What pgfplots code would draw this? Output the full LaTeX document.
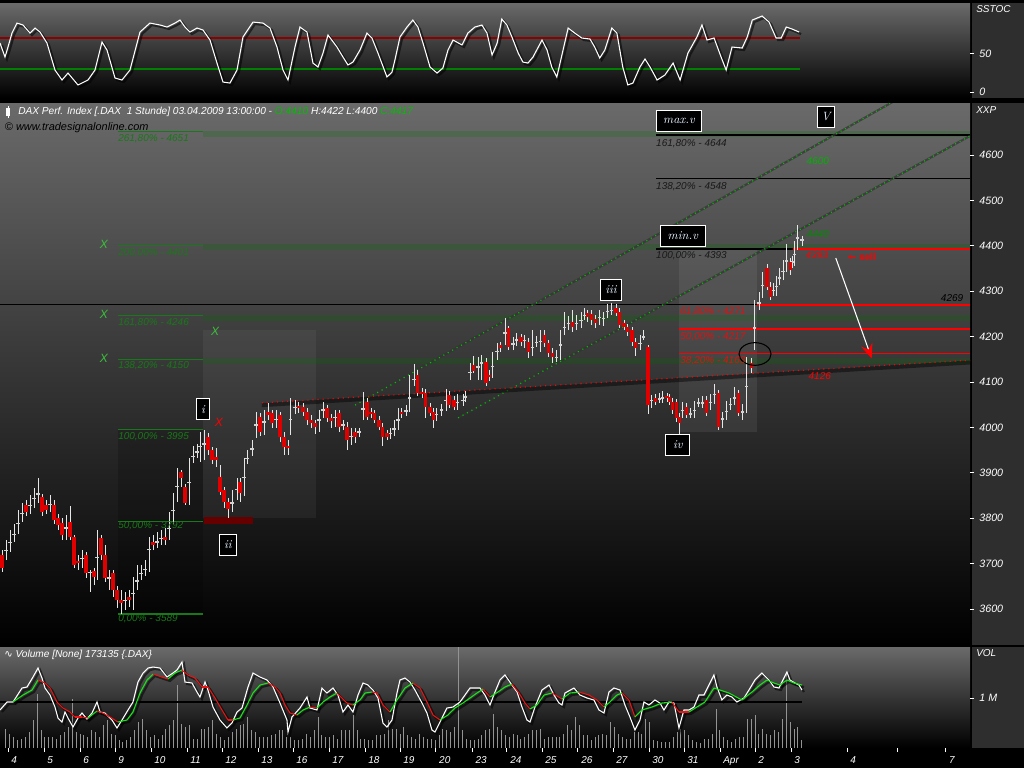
\documentclass[border=0pt]{standalone}
\usepackage{fontspec}
\usepackage{pgfplots}
\usepackage{pgfplotstable}
\pgfplotsset{compat=1.18}
\usetikzlibrary{arrows.meta}
\newfontfamily\lib{Liberation Sans}
\newfontfamily\dvs{DejaVu Sans}
\definecolor{bgtop}{HTML}{6A6A6A}
\definecolor{strip}{HTML}{2E2E2E}
\definecolor{fibgreen}{RGB}{25,120,25}
\definecolor{xgreen}{RGB}{60,190,60}
\definecolor{candleup}{HTML}{D2D2D2}
\definecolor{candledn}{HTML}{E00000}
\definecolor{wick}{HTML}{E6E6E6}
\definecolor{fibred}{HTML}{E01010}
\definecolor{boxtext}{HTML}{E6F2FF}
\newcommand\lf{\lib\itshape\fontsize{7.5}{9}\selectfont}
\newcommand\tf{\lib\itshape\fontsize{8}{9.5}\selectfont}
\newcommand\ttl{\lib\itshape\fontsize{7.6}{9}\selectfont}
\newcommand\bx{\itshape\fontsize{9}{10}\selectfont}

\pgfplotstableread{
i o h l c
1.00 3719 3730 3682 3690
2.03 3717 3752 3708 3741
3.05 3734 3774 3726 3761
4.08 3756 3787 3748 3774
5.10 3774 3818 3765 3805
6.13 3800 3834 3792 3822
7.15 3829 3840 3805 3814
8.18 3818 3851 3809 3840
9.20 3834 3867 3822 3853
10.23 3845 3889 3834 3862
11.25 3845 3853 3805 3814
12.28 3829 3840 3809 3818
13.30 3822 3851 3814 3840
14.33 3829 3840 3787 3796
15.35 3800 3809 3774 3785
16.38 3789 3800 3752 3763
17.40 3763 3807 3752 3796
18.43 3792 3827 3752 3759
19.45 3759 3763 3690 3697
20.48 3706 3719 3686 3701
21.50 3704 3730 3690 3719
22.53 3719 3726 3668 3679
23.55 3679 3686 3637 3684
24.58 3682 3690 3653 3671
25.35 3671 3774 3664 3756
26.37 3756 3763 3708 3719
27.40 3719 3741 3659 3668
28.42 3666 3686 3642 3671
29.45 3679 3686 3626 3642
30.47 3642 3651 3602 3620
31.50 3620 3642 3589 3615
32.52 3615 3637 3598 3624
33.55 3626 3642 3604 3620
34.57 3620 3671 3598 3649
35.60 3649 3697 3642 3675
36.62 3675 3697 3664 3682
37.65 3682 3708 3673 3693
38.67 3715 3759 3682 3748
39.70 3748 3763 3730 3741
40.72 3741 3770 3734 3756
41.75 3754 3774 3741 3759
42.77 3759 3778 3741 3752
43.80 3759 3814 3752 3796
44.82 3796 3856 3787 3840
45.85 3840 3911 3836 3900
46.87 3900 3906 3869 3889
47.90 3869 3875 3829 3834
48.92 3834 3933 3829 3924
49.95 3928 3959 3922 3946
50.97 3944 3963 3933 3948
51.74 3928 3990 3924 3988
52.77 3939 3995 3928 3990
53.79 3979 3988 3939 3950
54.82 3950 3957 3919 3928
55.84 3935 3955 3913 3928
56.87 3891 3917 3851 3858
57.89 3862 3869 3822 3836
58.92 3836 3845 3800 3822
59.94 3822 3862 3814 3847
61.23 3847 3889 3840 3880
62.00 3880 3889 3836 3856
63.02 3856 3933 3849 3924
63.79 3928 3950 3919 3937
65.07 3946 3972 3937 3961
66.10 3988 4034 3977 4023
67.12 4023 4032 3981 3990
68.15 3990 4038 3983 4034
69.17 4034 4054 4016 4027
70.20 4032 4038 3999 4010
71.22 4010 4038 3999 4027
72.25 4027 4034 3968 3979
73.27 3979 3990 3939 3957
74.30 3959 3972 3939 3955
75.06 3990 4065 3983 4045
76.09 4043 4060 4030 4047
77.11 4047 4056 4032 4043
78.14 4045 4054 4025 4034
79.17 4034 4043 4005 4016
80.19 4016 4027 3999 4010
81.22 4010 4016 3986 4001
82.24 4001 4038 3990 4032
83.27 4032 4056 4021 4045
84.29 4043 4049 4012 4021
85.32 4021 4030 3999 4014
86.34 4012 4038 4001 4032
87.37 4032 4038 3990 4001
88.39 4003 4016 3994 4008
89.42 4001 4012 3950 3972
90.44 3972 3999 3961 3990
91.47 3990 3999 3966 3979
92.49 3988 3999 3979 3992
93.52 4023 4078 4016 4060
94.54 4056 4065 4016 4023
95.57 4034 4043 4021 4030
96.59 4032 4038 4010 4016
97.62 4016 4025 3994 4001
98.64 4001 4010 3959 3979
99.67 3986 3994 3972 3979
100.44 3983 3999 3974 3992
101.46 3990 4016 3981 4005
102.49 4001 4043 3994 4032
103.51 4034 4043 4021 4030
104.54 4032 4049 4025 4041
105.56 4038 4115 4034 4093
106.59 4098 4140 4091 4115
107.61 4115 4126 4069 4076
108.64 4078 4087 4065 4074
109.66 4076 4085 4021 4045
110.69 4045 4054 4025 4032
111.70 4034 4043 3999 4016
112.48 4023 4043 4014 4034
113.76 4034 4052 4025 4043
114.79 4043 4085 4036 4076
115.56 4071 4080 4043 4049
116.84 4060 4069 4038 4045
117.86 4045 4074 4038 4065
119.15 4054 4074 4047 4065
119.91 4065 4080 4056 4071
120.94 4111 4142 4104 4133
121.96 4137 4157 4120 4126
122.99 4131 4155 4104 4137
124.01 4137 4159 4104 4148
125.04 4144 4153 4091 4098
125.81 4115 4126 4102 4111
126.83 4115 4166 4109 4155
127.86 4155 4186 4148 4181
128.88 4181 4188 4166 4175
129.91 4199 4241 4181 4219
130.93 4219 4223 4170 4177
131.96 4177 4199 4170 4192
132.98 4188 4208 4179 4199
134.01 4199 4206 4179 4188
135.03 4190 4203 4175 4195
136.06 4188 4197 4153 4166
137.08 4166 4214 4157 4188
138.11 4186 4201 4177 4190
139.13 4177 4214 4166 4203
140.16 4203 4214 4177 4186
141.18 4186 4192 4155 4164
142.21 4164 4175 4142 4155
143.23 4153 4170 4144 4157
144.26 4155 4214 4148 4210
145.28 4210 4254 4203 4232
146.31 4226 4245 4214 4232
147.33 4232 4259 4210 4221
148.36 4226 4248 4214 4232
149.39 4230 4254 4219 4243
150.41 4243 4263 4237 4252
151.18 4252 4259 4232 4243
152.20 4248 4259 4226 4237
153.23 4237 4248 4219 4230
154.25 4237 4259 4226 4248
155.28 4232 4254 4223 4248
156.30 4248 4272 4241 4263
157.33 4254 4274 4248 4263
158.36 4263 4272 4245 4252
159.38 4254 4263 4219 4226
160.41 4230 4237 4214 4221
161.43 4221 4228 4201 4210
162.46 4214 4221 4179 4188
163.48 4188 4197 4157 4175
164.51 4175 4203 4170 4197
165.53 4197 4214 4192 4203
166.56 4177 4181 4030 4049
167.58 4054 4071 4043 4065
168.61 4065 4074 4049 4056
169.63 4060 4076 4054 4067
170.40 4060 4080 4054 4071
171.43 4069 4076 4056 4065
172.19 4067 4074 4049 4056
172.96 4056 4065 4030 4038
173.99 4056 4063 4012 4021
174.76 4023 4032 3985 4010
175.53 4027 4056 4021 4049
176.55 4045 4054 4021 4027
177.58 4027 4043 4021 4034
178.60 4027 4058 4021 4049
179.63 4052 4065 4045 4056
180.65 4049 4069 4043 4060
181.68 4060 4069 4025 4032
182.70 4045 4074 4038 4065
183.73 4060 4096 4052 4087
184.75 4076 4082 3994 4001
185.78 4012 4034 3999 4027
186.80 4023 4058 4016 4049
187.83 4045 4065 4038 4056
188.85 4054 4089 4049 4076
189.88 4076 4082 4025 4032
190.90 4027 4052 4016 4043
191.93 4038 4155 4032 4144
193.21 4142 4153 4120 4131
193.98 4175 4281 4170 4265
195.01 4265 4298 4259 4285
196.03 4296 4342 4285 4331
197.06 4351 4360 4303 4309
198.08 4309 4320 4281 4287
198.85 4296 4318 4289 4309
199.62 4296 4333 4289 4325
200.39 4320 4351 4314 4340
201.16 4331 4369 4325 4358
202.18 4351 4404 4342 4384
203.21 4364 4373 4336 4347
203.72 4360 4377 4351 4369
204.23 4362 4411 4356 4402
205.00 4397 4446 4391 4439
206.03 4410 4422 4400 4417
}\candles

\pgfplotstableread{
i v
0.49 63.5
1.77 45.5
2.54 58.4
3.56 76.4
4.84 89.3
6.38 86.8
8.18 76.4
9.46 82.9
10.74 77.7
12.53 63.5
14.58 28.7
16.38 15.8
17.91 24.8
20.48 9.4
23.04 15.8
24.83 28.7
26.63 64.8
27.91 54.5
29.96 18.4
31.75 15.8
33.80 28.7
36.36 77.7
38.92 89.3
41.49 86.8
43.29 84.2
45.34 89.3
46.62 93.2
47.90 84.2
49.18 77.7
50.97 82.9
52.51 80.3
54.31 67.4
56.10 37.7
57.64 13.2
59.43 11.9
61.23 28.7
62.76 71.3
65.33 90.6
67.89 89.3
69.68 82.9
71.48 58.4
73.02 28.7
74.30 15.8
76.09 58.4
77.37 84.2
79.17 77.7
80.70 37.7
81.98 32.6
83.27 50.6
84.55 73.9
86.85 58.4
88.39 45.5
89.67 35.2
90.95 39.0
92.75 54.5
94.54 76.4
95.82 70.0
97.36 50.6
99.67 19.7
100.95 26.1
101.7 41.6
103.0 71.3
104.8 84.2
106.3 93.2
107.6 84.2
108.9 63.5
110.7 32.6
112.5 24.8
114.0 31.3
115.3 54.5
116.6 67.4
118.9 61.0
120.4 76.4
122.2 84.2
124.0 86.8
125.3 76.4
126.6 48.1
127.9 63.5
129.1 94.5
130.4 86.8
131.7 71.3
133.3 50.6
134.5 39.0
135.8 37.7
137.1 45.5
139.4 67.4
140.7 54.5
141.9 32.6
143.2 19.7
144.5 48.1
146.1 82.9
147.8 76.4
149.6 70.0
151.7 68.7
152.9 58.4
154.2 44.2
155.5 54.5
157.3 82.9
158.6 76.4
160.1 32.6
161.4 9.4
162.7 11.9
164.5 32.6
165.8 42.9
167.1 32.6
168.9 15.8
170.9 22.3
173.0 37.7
174.8 15.8
176.8 50.6
179.1 71.3
180.4 86.8
181.7 67.4
183.5 70.0
185.3 45.5
186.6 28.7
188.1 58.4
190.7 57.1
192.0 71.3
193.3 93.2
195.8 98.4
197.6 90.6
199.4 70.0
200.7 70.0
202.0 84.2
203.5 81.6
205.3 77.7
}\stoch

\pgfplotstableread{
i v
2 0.39
3 0.29
4 0.23
5 0.16
6 0.19
7 0.23
8 0.33
9 0.56
10 1.09
11 0.36
12 0.23
13 0.23
14 0.23
15 0.19
16 0.26
17 0.33
18 0.43
19 0.99
20 0.33
21 0.29
22 0.26
23 0.23
24 0.36
25 0.33
26 0.23
27 0.46
28 0.56
29 0.29
30 0.26
31 0.16
32 0.13
33 0.16
34 0.23
35 0.36
36 0.53
37 0.59
38 0.36
39 0.23
40 0.26
41 0.19
42 0.26
43 0.39
44 0.46
45 0.56
46 1.26
47 0.49
48 0.43
49 0.46
50 0.19
51 0.19
52 0.39
53 0.39
54 0.43
55 0.56
56 0.29
57 0.23
58 0.16
59 0.23
60 0.33
61 0.39
62 0.46
63 0.49
64 0.63
65 0.36
66 0.33
67 0.23
68 0.23
69 0.23
70 0.26
71 0.29
72 0.36
73 0.36
74 0.23
75 0.23
76 0.16
77 0.16
78 0.19
79 0.29
80 0.23
81 0.36
82 0.63
83 0.26
84 0.23
85 0.23
86 0.26
87 0.19
88 0.36
89 0.36
90 0.36
91 0.66
92 0.36
93 0.19
94 0.19
95 0.17
96 0.17
97 0.26
98 0.26
99 0.29
100 0.56
101 0.39
102 0.39
103 0.29
104 0.43
105 0.26
106 0.23
107 0.19
108 0.29
109 0.23
110 0.19
111 0.19
112 0.16
113 0.26
114 0.39
115 0.36
116 0.33
117 0.43
118 2.03
119 0.36
120 0.19
121 0.16
122 0.16
123 0.19
124 0.26
125 0.36
126 0.39
127 0.69
128 0.43
129 0.36
130 0.26
131 0.23
132 0.29
133 0.26
134 0.19
135 0.23
136 0.29
137 0.36
138 0.36
139 0.39
140 0.19
141 0.23
142 0.23
143 0.23
144 0.23
145 0.29
146 0.46
147 0.36
148 0.63
149 0.46
150 0.26
151 0.26
152 0.16
153 0.23
154 0.26
155 0.29
156 0.26
157 0.53
158 0.43
159 0.29
160 0.23
161 0.19
162 0.19
163 0.33
164 0.33
165 0.29
166 0.59
167 0.53
168 0.16
169 0.14
170 0.13
171 0.13
172 0.13
173 0.23
174 0.33
175 0.39
176 0.36
177 0.26
178 0.16
179 0.13
180 0.11
181 0.19
182 0.19
183 0.29
184 0.79
185 0.36
186 0.23
187 0.16
188 0.13
189 0.19
190 0.23
191 0.23
192 0.59
193 0.59
194 0.66
195 0.29
196 0.39
197 0.29
198 0.26
199 0.36
200 0.33
201 0.59
202 1.53
203 0.53
204 0.39
205 0.43
206 0.16
}\volbars

\pgfplotstableread{
i v
0.49 0.76
2.28 0.92
3.82 0.92
6.13 1.20
7.41 1.22
8.94 1.42
10.23 1.60
11.25 1.40
12.02 1.20
13.30 1.06
14.58 0.82
15.35 0.60
16.38 0.52
17.15 0.72
17.91 0.60
19.20 0.42
20.48 0.60
21.50 0.70
22.78 0.58
24.07 0.70
25.35 0.92
26.12 0.72
27.40 0.70
29.19 0.56
30.47 0.40
31.75 0.56
33.29 0.76
34.57 0.92
35.85 1.32
37.14 1.50
38.42 1.60
39.70 1.62
41.49 1.60
43.29 1.42
44.82 1.50
45.85 1.56
47.13 1.72
47.90 1.32
49.69 1.30
50.97 1.12
51.74 1.02
53.03 1.32
53.79 1.16
55.07 0.82
56.87 0.56
58.66 0.40
59.94 0.50
61.23 0.72
62.51 0.80
64.05 1.22
65.33 1.50
67.12 1.42
68.92 1.36
70.45 1.22
72.25 0.90
74.04 0.56
74.30 0.32
75.32 0.62
77.37 0.80
79.17 1.02
79.93 0.80
81.73 0.76
83.01 1.20
84.29 1.10
85.83 1.20
87.11 1.06
88.39 0.72
89.67 0.86
90.95 0.72
92.24 1.06
93.52 1.30
94.80 1.26
96.08 1.16
97.36 1.00
98.64 0.50
99.67 0.42
100.95 0.56
102.23 1.10
103.0 1.36
104.28 1.40
105.56 1.32
106.84 1.16
108.64 0.90
109.92 0.70
111.2 0.36
111.97 0.32
113.25 0.52
115.04 0.80
116.58 0.82
118.38 0.92
119.66 1.06
120.94 1.20
123.50 1.20
124.78 1.06
126.07 0.86
127.35 1.12
128.63 1.36
129.91 1.46
131.7 1.26
132.99 1.12
134.27 0.82
135.55 0.56
136.32 0.52
137.6 0.82
139.39 1.16
141.19 1.26
142.47 1.06
143.75 0.90
144.52 0.86
145.29 1.10
147.59 1.20
149.13 1.06
150.92 1.00
152.72 0.96
154.0 0.76
155.28 0.70
156.56 1.12
157.84 1.20
159.38 1.16
160.66 0.86
161.94 0.62
163.22 0.36
164.51 0.56
165.53 0.92
166.81 0.86
168.35 0.96
169.63 0.90
170.66 0.76
171.94 0.92
173.22 0.90
174.5 0.40
175.78 0.76
177.06 0.76
178.35 0.82
179.63 1.06
180.91 1.06
182.19 1.26
183.47 1.46
184.24 1.22
185.52 0.96
186.8 1.06
188.09 1.02
189.37 0.92
191.16 1.00
192.44 1.16
193.98 1.36
195.77 1.50
197.57 1.36
198.85 1.22
200.13 1.20
200.9 1.32
202.18 1.52
202.95 1.36
204.23 1.30
205.26 1.26
206.03 1.16
}\volwhite

\pgfplotstableread{
i v c
3.82 0.92 1
6.38 1.06 1
8.69 1.16 1
10.23 1.36 0
12.02 1.30 0
13.30 1.20 0
15.09 0.92 0
16.63 0.80 0
18.43 0.72 0
19.71 0.62 0
21.50 0.62 0
23.04 0.60 1
25.35 0.74 0
26.88 0.70 0
28.68 0.62 0
30.73 0.52 1
33.03 0.56 1
34.57 0.72 1
36.37 1.10 1
38.16 1.36 1
39.70 1.48 0
42.0 1.42 0
43.54 1.38 1
45.34 1.50 1
47.13 1.56 0
48.67 1.46 0
50.46 1.40 0
52.26 1.22 0
53.79 1.22 0
55.59 1.00 0
57.38 0.76 0
58.92 0.56 0
60.2 0.56 1
61.99 0.60 1
63.79 0.86 1
65.33 1.10 1
67.12 1.26 1
69.17 1.30 0
70.97 1.22 0
72.25 1.10 0
73.53 0.86 0
74.81 0.70 0
76.6 0.66 1
78.14 0.76 1
79.93 0.82 0
81.73 0.80 1
83.27 0.92 1
85.06 1.02 1
86.85 1.10 0
88.13 1.00 0
89.41 0.90 0
90.95 0.86 1
92.75 0.96 1
94.03 1.10 1
95.82 1.12 0
97.1 1.10 0
98.64 0.86 0
100.44 0.72 1
102.23 0.96 1
104.28 1.20 1
106.33 1.30 0
108.13 1.20 0
109.92 0.92 0
111.46 0.66 0
113.25 0.56 1
115.3 0.66 1
117.1 0.80 1
119.14 0.90 1
120.94 1.00 1
122.73 1.10 1
124.27 1.18 0
126.07 1.02 1
128.11 1.12 1
129.91 1.22 1
131.7 1.28 0
133.5 1.10 0
135.04 0.90 0
136.32 0.78 1
138.11 0.86 1
139.91 1.06 1
141.96 1.10 0
144.52 0.98 1
146.57 1.10 1
148.87 1.12 0
151.44 1.06 0
153.49 0.96 0
155.28 0.82 1
156.82 0.92 1
158.61 1.06 1
159.89 1.10 0
161.69 0.96 0
163.22 0.62 1
165.02 0.76 1
167.58 0.82 1
170.14 0.90 1
172.7 0.92 0
174.5 0.72 0
177.06 0.72 1
179.11 0.82 1
181.16 0.92 1
183.47 1.20 1
185.0 1.16 1
187.32 1.10 1
190.65 0.96 1
193.21 1.12 1
195.26 1.26 1
197.06 1.36 1
198.85 1.30 1
200.39 1.26 1
202.18 1.36 1
203.98 1.30 1
206.03 1.26 1
}\volma

\pgfplotsset{
  panel/.style={
    anchor=north west, width=727.5pt, scale only axis,
    xmin=0.487, xmax=249.1,
    axis background/.style={top color=bgtop, bottom color=black},
    axis line style={draw=none},
    tick align=outside, major tick length=3pt,
    tick style={white, line width=0.6pt},
    ytick pos=right, yticklabel pos=right,
    yticklabel style={font=\tf, text=white, xshift=0.5pt},
    /pgf/number format/assume math mode=true,
    /pgf/number format/1000 sep={},
  }
}

\begin{document}
\begin{tikzpicture}
\useasboundingbox (0,0) rectangle (768pt,-576pt);
\fill[black] (0,0) rectangle (768pt,-576pt);
\fill[strip] (729pt,-2.25pt) rectangle (768pt,-73.5pt);
\fill[strip] (729pt,-77.25pt) rectangle (768pt,-483.75pt);
\fill[strip] (729pt,-485.25pt) rectangle (768pt,-561pt);

% ---------------- SSTOC panel
\begin{axis}[panel, at={(0pt,-2.25pt)}, height=71.25pt,
  ymin=-7.4, ymax=115.2, xtick=\empty, ytick={0,50}]
\draw[red!55!black, line width=1pt] (axis cs:0.487,70) -- (axis cs:205.5,70);
\draw[green!50!black, line width=1pt] (axis cs:0.487,30) -- (axis cs:205.5,30);
\addplot[black, opacity=0.55, line width=1.6pt, xshift=1.5pt, yshift=-1.5pt] table[x=i,y=v] {\stoch};
\addplot[white, line width=0.8pt] table[x=i,y=v] {\stoch};
\end{axis}

% ---------------- main price panel
\begin{axis}[panel, at={(0pt,-77.25pt)}, height=406.5pt,
  ymin=3520.7, ymax=4714.5, xtick=\empty, ytick={3600,3700,...,4600}]
% shaded zones
\fill[black, opacity=0.18] (axis cs:30.73,3995) rectangle (axis cs:52.5,3589);
\fill[white, opacity=0.05] (axis cs:52.5,4214) rectangle (axis cs:81.5,3800);
\fill[white, opacity=0.07] (axis cs:174.5,4390) rectangle (axis cs:194.5,3990);
\fill[red!40!black] (axis cs:52.8,3803) rectangle (axis cs:65.3,3788);
% green bands
\fill[green!45!black, opacity=0.22] (axis cs:52.5,4653) rectangle (axis cs:249.1,4640);
\fill[green!45!black, opacity=0.22] (axis cs:52.5,4403) rectangle (axis cs:249.1,4390);
\fill[green!45!black, opacity=0.22] (axis cs:52.5,4248) rectangle (axis cs:249.1,4235);
\fill[green!45!black, opacity=0.22] (axis cs:52.5,4152) rectangle (axis cs:249.1,4139);
% left green fib lines
\draw[fibgreen, line width=0.8pt] (axis cs:30.73,4651) -- (axis cs:52.5,4651);
\draw[fibgreen, line width=0.8pt] (axis cs:30.73,4401) -- (axis cs:52.5,4401);
\draw[fibgreen, line width=0.8pt] (axis cs:30.73,4246) -- (axis cs:52.5,4246);
\draw[fibgreen, line width=0.8pt] (axis cs:30.73,4150) -- (axis cs:52.5,4150);
\draw[fibgreen, line width=0.8pt] (axis cs:30.73,3995) -- (axis cs:52.5,3995);
\draw[fibgreen, line width=0.8pt] (axis cs:30.73,3792) -- (axis cs:52.5,3792);
\draw[fibgreen, line width=0.8pt] (axis cs:30.73,3589) -- (axis cs:52.5,3589);
% horizontal lines
\draw[black, line width=1pt] (axis cs:0.487,4270) -- (axis cs:249.1,4270);
\draw[black, line width=0.9pt] (axis cs:168.6,4644) -- (axis cs:249.1,4644);
\draw[black, line width=0.9pt] (axis cs:168.6,4548) -- (axis cs:249.1,4548);
\draw[black, line width=0.9pt] (axis cs:168.6,4393) -- (axis cs:203.7,4393);
\draw[red, line width=1pt] (axis cs:203.7,4393) -- (axis cs:249.1,4393);
\draw[red, line width=1.2pt] (axis cs:194.5,4270) -- (axis cs:249.1,4270);
\draw[red, line width=1.2pt] (axis cs:174.5,4217) -- (axis cs:249.1,4217);
\draw[red, line width=1.2pt] (axis cs:174.5,4163) -- (axis cs:249.1,4163);
% channel lines
\draw[black!80, opacity=0.7, line width=1.6pt] (axis cs:91.5,4049) -- (axis cs:232,4730);
\draw[green!75!black, line width=0.9pt, dash pattern=on 0.8pt off 3pt] (axis cs:91.5,4049) -- (axis cs:232,4730);
\draw[black!80, opacity=0.7, line width=1.6pt] (axis cs:117.9,4021) -- (axis cs:249.1,4642);
\draw[green!75!black, line width=0.9pt, dash pattern=on 0.8pt off 3pt] (axis cs:117.9,4021) -- (axis cs:249.1,4642);
\draw[black, opacity=0.45, line width=3pt] (axis cs:67.6,4049) -- (axis cs:249.1,4143);
\draw[red, line width=0.9pt, dash pattern=on 0.8pt off 3pt] (axis cs:67.6,4054) -- (axis cs:249.1,4148);
% dome
\fill[black, opacity=0.25] (axis cs:206.8,4390.7) ++(-28pt,0) arc[start angle=180, end angle=0, x radius=28pt, y radius=19pt] -- cycle;
% candles: wicks
\addplot[draw=none, mark=none, forget plot,
  error bars/.cd, y dir=both, y explicit, error mark=none,
  error bar style={draw=wick, line width=0.7pt}]
  table[x=i, y expr=(\thisrow{h}+\thisrow{l})/2, y error expr=(\thisrow{h}-\thisrow{l})/2] {\candles};
% up bodies (error length zero for falling bars)
\addplot[draw=none, mark=none, forget plot,
  error bars/.cd, y dir=both, y explicit, error mark=none,
  error bar style={draw=candleup, line width=2.3pt}]
  table[x=i, y expr=(\thisrow{o}+\thisrow{c})/2, y error expr=(\thisrow{c}>=\thisrow{o})*(abs(\thisrow{c}-\thisrow{o})/2+0.7)] {\candles};
% down bodies
\addplot[draw=none, mark=none, forget plot,
  error bars/.cd, y dir=both, y explicit, error mark=none,
  error bar style={draw=candledn, line width=2.3pt}]
  table[x=i, y expr=(\thisrow{o}+\thisrow{c})/2, y error expr=(\thisrow{c}<\thisrow{o})*(abs(\thisrow{c}-\thisrow{o})/2+0.7)] {\candles};
% ellipse and arrow
\draw[black, line width=0.8pt] (axis cs:194.0,4161.7) ellipse [x radius=12pt, y radius=8.5pt];
\draw[white, line width=0.8pt, -{Stealth[length=11pt, width=9pt, inset=4pt, color=red, fill=red]}] (axis cs:214.7,4373) -- (axis cs:223.9,4152);
% fib labels (green, left)
\node[anchor=west, inner sep=0pt, font=\lf, text=fibgreen] at (axis cs:30.73,4635) {261,80\% - 4651};
\node[anchor=west, inner sep=0pt, font=\lf, text=fibgreen] at (axis cs:30.73,4384) {200,00\% - 4401};
\node[anchor=west, inner sep=0pt, font=\lf, text=fibgreen] at (axis cs:30.73,4230) {161,80\% - 4246};
\node[anchor=west, inner sep=0pt, font=\lf, text=fibgreen] at (axis cs:30.73,4135) {138,20\% - 4150};
\node[anchor=west, inner sep=0pt, font=\lf, text=fibgreen] at (axis cs:30.73,3979) {100,00\% - 3995};
\node[anchor=west, inner sep=0pt, font=\lf, text=fibgreen] at (axis cs:30.73,3783) {50,00\% - 3792};
\node[anchor=west, inner sep=0pt, font=\lf, text=fibgreen] at (axis cs:30.73,3578) {0,00\% - 3589};
\node[anchor=west, inner sep=0pt, font=\lf, text=black!90] at (axis cs:168.6,4626) {161,80\% - 4644};
\node[anchor=west, inner sep=0pt, font=\lf, text=black!90] at (axis cs:168.6,4530) {138,20\% - 4548};
\node[anchor=west, inner sep=0pt, font=\lf, text=black!90] at (axis cs:168.6,4378) {100,00\% - 4393};
\node[anchor=west, inner sep=0pt, font=\lf, text=fibred] at (axis cs:174.8,4254) {61,80\% - 4271};
\node[anchor=west, inner sep=0pt, font=\lf, text=fibred] at (axis cs:174.8,4199) {50,00\% - 4217};
\node[anchor=west, inner sep=0pt, font=\lf, text=fibred] at (axis cs:174.8,4146) {38,20\% - 4163};
\node[font=\lf, text=green!70!black, inner sep=0pt] at (axis cs:210.1,4587) {4600};
\node[font=\lf, text=green!55!black, inner sep=0pt] at (axis cs:210.1,4426) {4440};
\node[font=\lf, text=red, inner sep=0pt] at (axis cs:209.9,4380) {4393};
\node[font=\lib\bfseries\fontsize{7.5}{9}\selectfont, text=red, inner sep=0pt] at (axis cs:221.4,4375) {{\dvs ←} sell};
\node[font=\lf, text=black, inner sep=0pt] at (axis cs:244.5,4285) {4269};
\node[font=\lf, text=red, inner sep=0pt] at (axis cs:210.6,4113) {4126};
% X marks
\node[inner sep=0pt, font=\lib\itshape\fontsize{9}{10}\selectfont, text=xgreen] at (axis cs:27.1,4404) {X};
\node[inner sep=0pt, font=\lib\itshape\fontsize{9}{10}\selectfont, text=xgreen] at (axis cs:27.1,4248) {X};
\node[inner sep=0pt, font=\lib\itshape\fontsize{9}{10}\selectfont, text=xgreen] at (axis cs:27.1,4153) {X};
\node[inner sep=0pt, font=\lib\itshape\fontsize{9}{10}\selectfont, text=xgreen] at (axis cs:55.6,4212) {X};
\node[inner sep=0pt, font=\lib\itshape\fontsize{9}{10}\selectfont, text=red] at (axis cs:56.6,4010) {X};
% wave label boxes
\node[fill=black, draw=white, line width=0.8pt, text=boxtext, font=\bx, inner sep=1pt, minimum height=16pt, minimum width=34pt] at (axis cs:174.5,4675) {max.v};
\node[fill=black, draw=white, line width=0.8pt, text=boxtext, font=\bx, inner sep=1pt, minimum height=16pt, minimum width=13pt] at (axis cs:212.2,4684) {V};
\node[fill=black, draw=white, line width=0.8pt, text=boxtext, font=\bx, inner sep=1pt, minimum height=16pt, minimum width=34pt] at (axis cs:175.5,4422) {min.v};
\node[fill=black, draw=white, line width=0.8pt, text=boxtext, font=\bx, inner sep=1pt, minimum height=16pt, minimum width=16pt] at (axis cs:157.1,4303) {iii};
\node[fill=black, draw=white, line width=0.8pt, text=boxtext, font=\bx, inner sep=1pt, minimum height=16pt, minimum width=10pt] at (axis cs:52.5,4040) {i};
\node[fill=black, draw=white, line width=0.8pt, text=boxtext, font=\bx, inner sep=1pt, minimum height=16pt, minimum width=13pt] at (axis cs:58.9,3741) {ii};
\node[fill=black, draw=white, line width=0.8pt, text=boxtext, font=\bx, inner sep=1pt, minimum height=16pt, minimum width=18pt] at (axis cs:174.2,3961) {iv};
\end{axis}

% ---------------- volume panel
\begin{axis}[panel, at={(0pt,-485.25pt)}, height=75.75pt,
  ymin=0, ymax=2.02, ytick={1}, yticklabels={1 M},
  xtick={2.54,11.76,20.99,29.96,39.19,48.41,57.38,66.61,75.58,84.80,94.03,103.0,112.2,121.5,130.4,139.4,148.6,157.6,166.8,175.8,185.0,194.0,203.2,217.6,230.6,242.9},
  xticklabels={4,5,6,9,10,11,12,13,16,17,18,19,20,23,24,25,26,27,30,31,Apr,2,3,4,{},7},
  xtick pos=left,
  xticklabel style={anchor=north west, xshift=-1pt, font=\lf, text=white}]
\addplot[ycomb, color=gray!85, line width=0.7pt] table[x=i,y=v] {\volbars};
\draw[black, line width=0.9pt] (axis cs:0.487,0.92) -- (axis cs:206,0.92);
\addplot[black, opacity=0.55, line width=1.6pt, xshift=1.5pt, yshift=-1.5pt] table[x=i,y=v] {\volwhite};
\addplot[black, opacity=0.55, line width=1.6pt, xshift=1.5pt, yshift=-1.5pt] table[x=i,y=v] {\volma};
\addplot[white, line width=0.8pt] table[x=i,y=v] {\volwhite};
\addplot[mesh, shader=flat corner, point meta=explicit, point meta min=0, point meta max=1,
  colormap={rg}{rgb255=(235,20,20) rgb255=(20,230,20)}, line width=0.8pt]
  table[x=i, y=v, meta=c] {\volma};
\end{axis}

% ---------------- texts outside axes
\node[anchor=west, inner sep=0pt, font=\lf, text=white] at (732pt,-6.5pt) {SSTOC};
\node[anchor=west, inner sep=0pt, font=\lf, text=white] at (732pt,-82.5pt) {XXP};
\node[anchor=west, inner sep=0pt, font=\lf, text=white] at (732pt,-490pt) {VOL};
\draw[white, line width=0.6pt] (6pt,-79.5pt) -- (6pt,-88.5pt);
\fill[white] (4.6pt,-81pt) rectangle (7.4pt,-87pt);
\node[anchor=west, inner sep=0pt, font=\ttl, text=white] at (13.5pt,-84pt)
  {DAX Perf. Index [.DAX\ \ 1 Stunde] 03.04.2009 13:00:00 - \textcolor{green!75!black}{O:4410} H:4422 L:4400 \textcolor{green!75!black}{C:4417}};
\node[anchor=west, inner sep=0pt, font=\lib\itshape\fontsize{8.2}{9.5}\selectfont, text=black] at (3.5pt,-95.5pt) {\textcopyright{} www.tradesignalonline.com};
\node[anchor=west, inner sep=0pt, font=\ttl, text=white] at (3pt,-491pt) {{\dvs ∿} Volume [None] 173135 \{.DAX\}};
\end{tikzpicture}
\end{document}
